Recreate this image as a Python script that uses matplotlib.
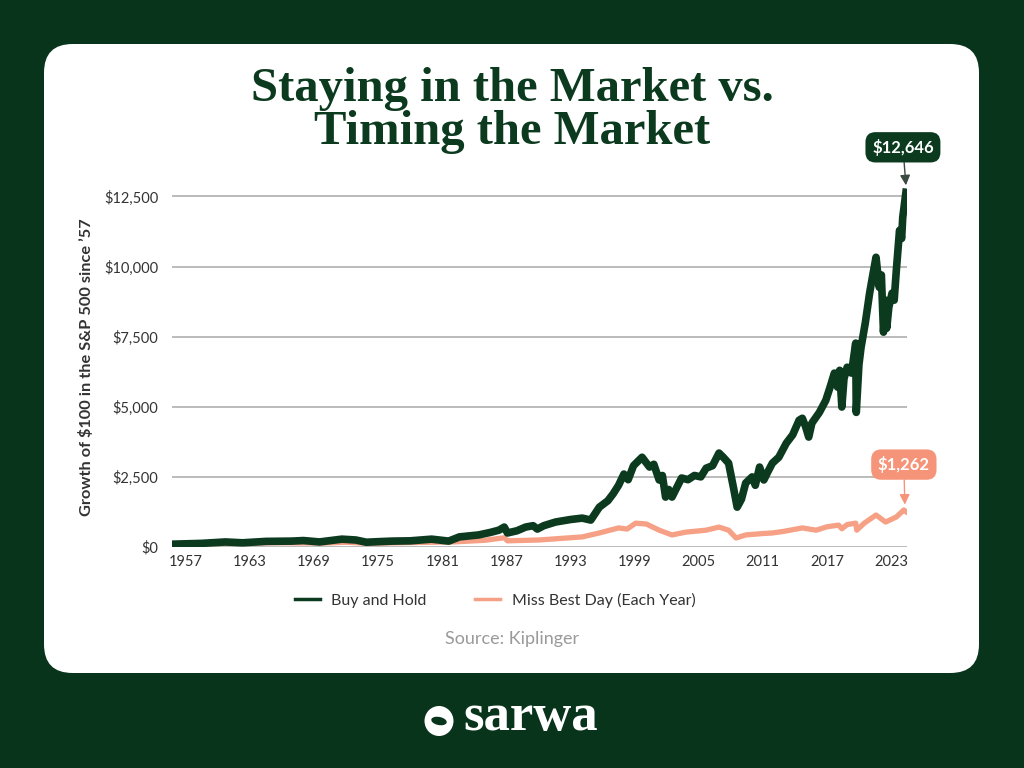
import matplotlib
matplotlib.use("Agg")
import matplotlib.pyplot as plt
from matplotlib.patches import FancyBboxPatch, Ellipse
from matplotlib.ticker import FuncFormatter

# values
buy_hold_years = [1955.7, 1958.5, 1960.7, 1962.3, 1964.5, 1966.9, 1968.0, 1969.5, 1971.6, 1972.9,
                  1973.9, 1975.0, 1976.3, 1978.0, 1980.0, 1981.6, 1982.6, 1984.4, 1985.5, 1986.3,
                  1986.8, 1987.1, 1988.0, 1988.8, 1989.5, 1989.9, 1990.5, 1991.6, 1993.0, 1994.1,
                  1994.9, 1995.7, 1996.5, 1997.0, 1997.5, 1998.0, 1998.4, 1998.9, 1999.7, 2000.0,
                  2000.4, 2000.8, 2001.3, 2001.6, 2001.9, 2002.2, 2002.5, 2003.4, 2004.0, 2004.6,
                  2005.2, 2005.7, 2006.3, 2006.9, 2007.3, 2007.8, 2008.3, 2008.6, 2009.0, 2009.4,
                  2010.0, 2010.3, 2010.7, 2011.1, 2011.5, 2011.9, 2012.5, 2013.2, 2013.8, 2014.4,
                  2014.7, 2015.0, 2015.3, 2015.6, 2016.3, 2016.9, 2017.3, 2017.7, 2018.0, 2018.2,
                  2018.4, 2018.6, 2018.9, 2019.3, 2019.7, 2019.75, 2020.0, 2020.2, 2020.6, 2021.0,
                  2021.3, 2021.6, 2021.9, 2022.1, 2022.3, 2022.5, 2022.6, 2022.8, 2023.1, 2023.3,
                  2023.5, 2023.8, 2024.0, 2024.1, 2024.4]
buy_hold_values = [100, 130, 180, 150, 200, 210, 230, 180, 280, 250,
                   170, 190, 210, 220, 280, 210, 360, 430, 520, 600,
                   710, 500, 580, 710, 760, 640, 760, 890, 980, 1030,
                   960, 1420, 1650, 1900, 2200, 2600, 2400, 2900, 3200, 3050,
                   2850, 2950, 2390, 2550, 1780, 2050, 1780, 2460, 2400, 2550,
                   2500, 2810, 2900, 3350, 3200, 2990, 2030, 1420, 1700, 2280,
                   2500, 2200, 2850, 2390, 2700, 2990, 3200, 3700, 4000, 4520,
                   4590, 4300, 3920, 4420, 4800, 5230, 5700, 6200, 5700, 6300,
                   4990, 6000, 6410, 6200, 7270, 4800, 6500, 7120, 8000, 9050,
                   9700, 10330, 9260, 9700, 7660, 8800, 7800, 8550, 9050, 8800,
                   9860, 11290, 11000, 11750, 12646]

miss_best_years = [1955.7, 1965.0, 1970.0, 1972.0, 1974.0, 1980.0, 1982.0, 1985.0, 1986.8, 1987.1,
                   1990.05, 1994.1, 1995.7, 1997.5, 1998.3, 1999.1, 2000.1, 2001.3, 2002.5, 2003.8,
                   2005.7, 2006.9, 2007.8, 2008.5, 2009.4, 2011.0, 2011.9, 2013.0, 2014.7, 2016.0,
                   2017.0, 2018.1, 2018.4, 2018.9, 2019.7, 2019.8, 2020.5, 2021.6, 2022.5, 2023.0,
                   2023.5, 2024.2, 2024.4]
miss_best_values = [100, 150, 140, 170, 130, 170, 180, 240, 330, 220,
                    250, 360, 500, 680, 640, 850, 820, 600, 430, 530,
                    600, 710, 600, 320, 430, 480, 500, 560, 680, 600,
                    720, 780, 650, 800, 850, 600, 850, 1140, 890, 980,
                    1070, 1320, 1262]

year_ticks = [1957, 1963, 1969, 1975, 1981, 1987, 1993, 1999, 2005, 2011, 2017, 2023]
value_ticks = [0, 2500, 5000, 7500, 10000, 12500]

BG = "#08341c"
GREEN = "#0c3a1f"
SALMON = "#f6a086"
SALMON_BOX = "#f59479"
TEXT = "#333333"

plt.rcParams['font.family'] = ['Lato', 'DejaVu Sans']

fig = plt.figure(figsize=(10.24, 7.68), dpi=100)
fig.patch.set_facecolor(BG)

W, H = 1024, 768


def fx(px):
    return px / W


def fy(py):
    return 1 - py / H


card = FancyBboxPatch((fx(44), fy(673)), fx(979) - fx(44), fy(44) - fy(673),
                      boxstyle="round,pad=0,rounding_size=0.028",
                      transform=fig.transFigure, facecolor="white", edgecolor="none",
                      mutation_aspect=W / H, zorder=-5)
fig.patches.append(card)

# title
title_kw = dict(ha="center", va="baseline", fontsize=35, fontweight="bold",
                family="Liberation Serif", color=GREEN)
fig.text(0.5, fy(101), "Staying in the Market vs.", **title_kw)
fig.text(0.5, fy(144), "Timing the Market", **title_kw)

ax = fig.add_axes([fx(172), fy(547), fx(907) - fx(172), fy(188) - fy(547)])
ax.set_facecolor("none")

ax.plot(miss_best_years, miss_best_values, color=SALMON, lw=3.8,
        solid_joinstyle="round", label="Miss Best Day (Each Year)", zorder=3)
ax.plot(buy_hold_years, buy_hold_values, color=GREEN, lw=5.5,
        solid_joinstyle="round", label="Buy and Hold", zorder=4)

ax.set_xlim(1955.7, 2024.5)
ax.set_ylim(0, 12800)
ax.set_xticks(year_ticks)
ax.set_yticks(value_ticks)
ax.yaxis.set_major_formatter(FuncFormatter(lambda v, p: f"${v:,.0f}"))
ax.grid(axis="y", color="#a8a8a8", lw=1.1)
ax.set_axisbelow(True)
for s in ax.spines.values():
    s.set_visible(False)
ax.tick_params(length=0, labelsize=10.5, labelcolor=TEXT)
ax.tick_params(axis="y", pad=10)
ax.tick_params(axis="x", pad=6)
ax.set_ylabel("Growth of $100 in the S&P 500 since \u201957", fontsize=11.8,
              fontweight="bold", color=TEXT, labelpad=7)

# end-value labels
box_kw = dict(textcoords="offset pixels", ha="center", va="center", fontsize=12,
              fontweight="bold", color="white", zorder=6, annotation_clip=False)
ax.annotate(f"${buy_hold_values[-1]:,}", xy=(buy_hold_years[-1], buy_hold_values[-1] + 250),
            xytext=(-3, 38),
            bbox=dict(boxstyle="round,pad=0.4,rounding_size=0.6", fc=GREEN, ec="none"),
            arrowprops=dict(arrowstyle="-|>,head_length=0.5,head_width=0.25",
                            color="#3b4a40", lw=1, shrinkA=0, shrinkB=0), **box_kw)
ax.annotate(f"${miss_best_values[-1]:,}", xy=(miss_best_years[-1] - 0.1, miss_best_values[-1] + 250),
            xytext=(-1, 40),
            bbox=dict(boxstyle="round,pad=0.4,rounding_size=0.6", fc=SALMON_BOX, ec="none"),
            arrowprops=dict(arrowstyle="-|>,head_length=0.5,head_width=0.25",
                            color=SALMON_BOX, lw=1, shrinkA=0, shrinkB=0), **box_kw)

# legend, Buy and Hold first
h_list, l_list = ax.get_legend_handles_labels()
leg = fig.legend(h_list[::-1], l_list[::-1], loc="center", bbox_to_anchor=(fx(495), fy(600)),
                 ncol=2, frameon=False, fontsize=11.5, handlelength=1.6, columnspacing=3.0,
                 handletextpad=0.7, labelcolor=TEXT)
for h in leg.legend_handles:
    h.set_linewidth(2.5)

fig.text(0.5, fy(639), "Source: Kiplinger", ha="center", va="center", fontsize=13,
         color="#9a9a9a")

# logo
fig.text(fx(531), fy(717), "sarwa", ha="center", va="center", fontsize=38,
         fontweight="bold", family="Liberation Serif", color="white")
fig.patches.append(Ellipse((fx(439), fy(721)), fx(29), 30 / H, transform=fig.transFigure,
                           facecolor="white", edgecolor="none"))
fig.patches.append(Ellipse((fx(439), fy(721)), fx(16), 8 / H, angle=-20,
                           transform=fig.transFigure, facecolor=BG, edgecolor="none"))

fig.savefig("out.png", dpi=100, facecolor=BG)
